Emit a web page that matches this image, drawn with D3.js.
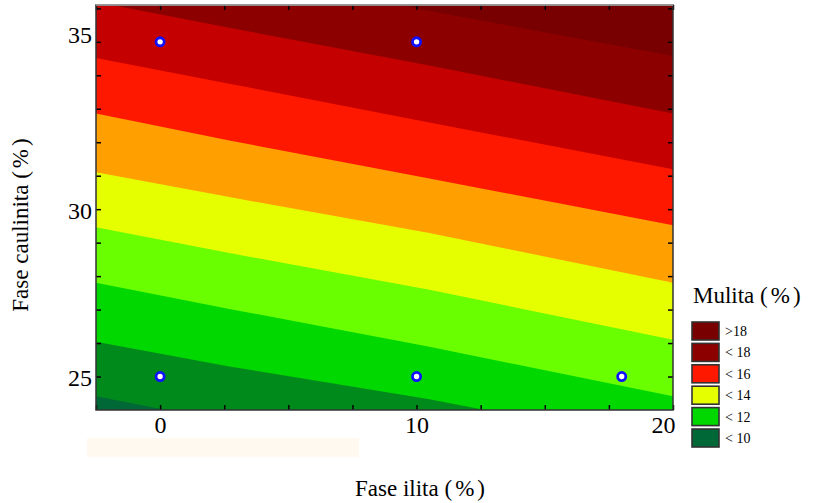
<!DOCTYPE html>
<html>
<head>
<meta charset="utf-8">
<script src="https://cdn.jsdelivr.net/npm/d3@7"></script>
<style>
  body { margin: 0; background: #fff; }
  svg { display: block; }
  svg text { font-family: "Liberation Serif", "Times New Roman", serif; fill: #000; }
</style>
</head>
<body>
<svg id="chart" width="816" height="503"></svg>
<script>
// contour levels of Mulita (%) and band colours, low to high
const LEVELS = [10, 11, 12, 13, 14, 15, 16, 17, 18]
const BAND_COLORS = [
  "#006836", "#008a1c", "#00d800", "#6aff00", "#e6ff00",
  "#ffa000", "#ff1800", "#c40000", "#8c0000", "#780000",
]

// where each level line crosses these ilita values
const EDGE_X = [-2.5, 2.7, 10.5, 20]
const BOUNDARY_Y = [
  [24.41, 23.63, 22.47, 21.07], // 10
  [26.04, 25.30, 24.32, 22.92], // 11
  [27.80, 27.02, 25.89, 24.41], // 12
  [29.46, 28.69, 27.59, 26.10], // 13
  [31.10, 30.36, 29.29, 27.80], // 14
  [32.86, 32.05, 30.92, 29.52], // 15
  [34.52, 33.75, 32.59, 31.19], // 16
  [36.19, 35.42, 34.29, 32.86], // 17
  [37.86, 37.11, 35.92, 34.58], // 18
]

// design points
const POINT_X = [0, 10, 0, 10, 18]
const POINT_Y = [35, 35, 25, 25, 25]

const X_TICKS = [-2.5, 0, 2.5, 5, 7.5, 10, 12.5, 15, 17.5, 20]
const X_LABELS = [0, 10, 20]
const Y_TICKS = [25, 26, 27, 28, 29, 30, 31, 32, 33, 34, 35, 36]
const Y_LABELS = [25, 30, 35]

const LEGEND_LABELS = [">18", "< 18", "< 16", "< 14", "< 12", "< 10"]
const LEGEND_COLORS = ["#780000", "#8c0000", "#ff1800", "#e6ff00", "#00d800", "#006836"]

const SERIF = "Liberation Serif, Times New Roman, serif"

const svg = d3.select("#chart")

const x = d3.scaleLinear().domain([-2.5, 20]).range([96, 673])
const y = d3.scaleLinear().domain([24, 36.1]).range([410, 5])

// clip for the filled bands
svg.append("clipPath").attr("id", "plotClip")
  .append("rect")
  .attr("x", x(-2.5)).attr("y", y(36.1))
  .attr("width", x(20) - x(-2.5)).attr("height", y(24) - y(36.1))

const bands = svg.append("g").attr("clip-path", "url(#plotClip)")

// lowest band fills the whole plot, each level then paints over from its line upward
bands.append("rect")
  .attr("x", x(-2.5)).attr("y", y(36.1))
  .attr("width", x(20) - x(-2.5)).attr("height", y(24) - y(36.1))
  .attr("fill", BAND_COLORS[0])

const area = d3.area()
  .x((d) => x(d[0]))
  .y0((d) => y(d[1]))
  .y1(() => y(40))

LEVELS.forEach((lev, i) => {
  const pts = EDGE_X.map((ex, j) => [ex, BOUNDARY_Y[i][j]])
  bands.append("path")
    .attr("d", area(pts))
    .attr("fill", BAND_COLORS[i + 1])
})

// faint scan smudge under the x axis
svg.append("rect")
  .attr("x", 87).attr("y", 438).attr("width", 272).attr("height", 19)
  .attr("fill", "#fff9ef")

// axes: inward ticks on all four sides
const fontSize = "24px"

const xAxis = svg.append("g")
  .attr("transform", `translate(0,${y(24)})`)
  .call(d3.axisBottom(x).tickValues(X_TICKS).tickSize(-5).tickPadding(6)
    .tickFormat((d) => (X_LABELS.includes(d) ? d : "")))
xAxis.attr("font-family", SERIF)
xAxis.selectAll("text").attr("font-size", fontSize).attr("fill", "#000")
xAxis.selectAll(".tick").filter((d) => d === 20).select("text")
  .attr("text-anchor", "end").attr("x", 2)

const yAxis = svg.append("g")
  .attr("transform", `translate(${x(-2.5)},0)`)
  .call(d3.axisLeft(y).tickValues(Y_TICKS).tickSize(-5).tickPadding(4)
    .tickFormat((d) => (Y_LABELS.includes(d) ? d : "")))
yAxis.attr("font-family", SERIF)
yAxis.selectAll("text").attr("font-size", fontSize).attr("fill", "#000").attr("dy", "0.38em")
yAxis.selectAll(".tick").filter((d) => d === 35).select("text").attr("dy", "0.04em")

svg.append("g")
  .attr("transform", `translate(0,${y(36.1)})`)
  .call(d3.axisTop(x).tickValues(X_TICKS).tickSize(-5).tickFormat(""))
svg.append("g")
  .attr("transform", `translate(${x(20)},0)`)
  .call(d3.axisRight(y).tickValues(Y_TICKS).tickSize(-5).tickFormat(""))

svg.selectAll(".domain").remove()
svg.selectAll(".tick line").attr("stroke", "#000").attr("stroke-width", 1.5)

// plot frame
svg.append("rect")
  .attr("x", x(-2.5)).attr("y", y(36.1))
  .attr("width", x(20) - x(-2.5)).attr("height", y(24) - y(36.1))
  .attr("fill", "none").attr("stroke", "#333").attr("stroke-width", 1.5)
svg.append("line")
  .attr("x1", x(-2.5)).attr("x2", x(20)).attr("y1", y(36.1)).attr("y2", y(36.1))
  .attr("stroke", "#aaa").attr("stroke-width", 1.5)

// design points
svg.append("g").selectAll("path")
  .data(POINT_X.map((px, i) => [px, POINT_Y[i]]))
  .join("path")
  .attr("transform", (d) => `translate(${x(d[0])},${y(d[1])})`)
  .attr("d", d3.symbol(d3.symbolCircle, 52)())
  .attr("fill", "#fff").attr("stroke", "#1010ff").attr("stroke-width", 2.8)

// axis titles, with the little gaps around the % sign
const titleText = (sel, label) => {
  sel.attr("font-family", SERIF)
  sel.append("tspan").text(label + " (")
  sel.append("tspan").attr("dx", 3).text("%")
  sel.append("tspan").attr("dx", 3).text(")")
}

svg.append("text")
  .attr("x", 420).attr("y", 496)
  .attr("text-anchor", "middle").attr("font-size", "23px")
  .call(titleText, "Fase ilita")

svg.append("text")
  .attr("transform", "translate(28,225) rotate(-90)")
  .attr("text-anchor", "middle").attr("font-size", "23px")
  .call(titleText, "Fase caulinita")

// legend
svg.append("text")
  .attr("x", 693).attr("y", 303).attr("font-size", "23px")
  .call(titleText, "Mulita")

const legend = svg.append("g").attr("font-family", SERIF)
LEGEND_LABELS.forEach((lab, i) => {
  const top = 322 + i * 21.4
  legend.append("rect")
    .attr("x", 692).attr("y", top).attr("width", 27).attr("height", 18)
    .attr("fill", LEGEND_COLORS[i]).attr("stroke", "#333").attr("stroke-width", 1.6)
  legend.append("text")
    .attr("x", 725).attr("y", top + 14).attr("font-size", "14px")
    .attr("font-family", SERIF)
    .text(lab)
})
</script>
</body>
</html>
